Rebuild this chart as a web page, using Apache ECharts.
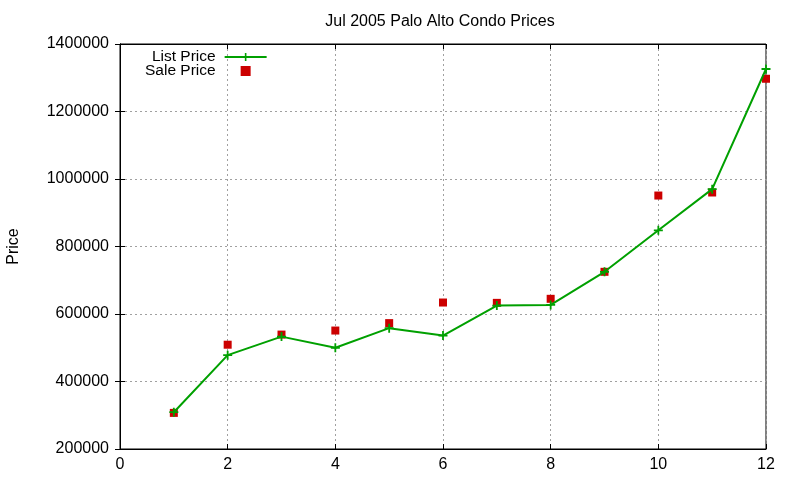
<!DOCTYPE html>
<html>
<head>
<meta charset="utf-8">
<script src="https://cdn.jsdelivr.net/npm/echarts@6/dist/echarts.min.js"></script>
<style>
  html, body { margin: 0; padding: 0; background: #fff; }
  #chart { width: 800px; height: 480px; }
</style>
</head>
<body>
<div id="chart"></div>
<script>
// month numbers (x) and prices
const months = [1, 2, 3, 4, 5, 6, 7, 8, 9, 10, 11, 12];
const listPrice = [309000, 478000, 533000, 500000, 558000, 536000, 625000, 627000, 725000, 848000, 970000, 1326000];
const salePrice = [307000, 509000, 539000, 551000, 573000, 634000, 633000, 645000, 725000, 951000, 960000, 1297000];

const font = "'Liberation Sans', Arial, sans-serif";
const plusIcon = 'path://M4,0h2v4h4v2h-4v4h-2v-4h-4v-2h4z';
const squareIcon = 'path://M0,0h10v10h-10z';

var chart = echarts.init(document.getElementById('chart'));

// mirrored ticks on top/right like gnuplot
const xBase = {
    type: 'value', min: 0, max: 12, interval: 2,
    axisLine: { lineStyle: { color: '#000', width: 1 } },
    axisTick: { inside: true, length: 5, lineStyle: { color: '#000' } }
};
const yBase = {
    type: 'value', min: 200000, max: 1400000, interval: 200000,
    axisLine: { show: true, lineStyle: { color: '#000', width: 1 } },
    axisTick: { show: true, inside: true, length: 5, lineStyle: { color: '#000' } }
};

var option = {
    animation: false,
    backgroundColor: '#fff',
    title: {
        text: 'Jul 2005 Palo Alto Condo Prices',
        left: 435, top: 9, textAlign: 'center',
        textStyle: { fontFamily: font, fontSize: 16, fontWeight: 'normal', color: '#000' }
    },
    grid: { left: 120, right: 34, top: 44, bottom: 31, outerBoundsMode: 'none', containLabel: false,
        show: true, borderColor: '#000', borderWidth: 1 },
    legend: {
        orient: 'vertical',
        align: 'right',
        left: 140, top: 44,
        itemWidth: 42, itemHeight: 10, itemGap: -2,
        symbolKeepAspect: true,
        textStyle: { fontFamily: font, fontSize: 15.5, color: '#000', padding: [0, 4, 0, 0] },
        data: ['List Price', { name: 'Sale Price', icon: squareIcon, symbolKeepAspect: true }]
    },
    xAxis: [
        Object.assign({}, xBase, {
            axisLabel: { fontFamily: font, fontSize: 16, color: '#000', margin: 8,
                alignMinLabel: 'center', alignMaxLabel: 'center' },
            splitLine: { show: true, lineStyle: { color: '#a0a0a0', type: [2, 3] } }
        }),
        Object.assign({}, xBase, { position: 'top', axisLabel: { show: false }, splitLine: { show: false } })
    ],
    yAxis: [
        Object.assign({}, yBase, {
            name: 'Price', nameLocation: 'middle', nameGap: 98,
            nameTextStyle: { fontFamily: font, fontSize: 16, color: '#000' },
            axisLabel: { fontFamily: font, fontSize: 16, color: '#000', margin: 11,
                formatter: (v) => String(v) },
            splitLine: { show: true, lineStyle: { color: '#a0a0a0', type: [2, 3] } }
        }),
        Object.assign({}, yBase, { position: 'right', axisLabel: { show: false }, splitLine: { show: false } })
    ],
    series: [
        {
            name: 'List Price',
            type: 'line',
            data: months.map((m, i) => [m, listPrice[i]]),
            symbol: plusIcon,
            symbolSize: 9,
            showSymbol: true,
            color: '#00a000',
            lineStyle: { color: '#00a000', width: 2 },
            itemStyle: { color: '#00a000' }
        },
        {
            name: 'Sale Price',
            type: 'scatter',
            data: months.map((m, i) => [m, salePrice[i]]),
            symbol: squareIcon,
            symbolKeepAspect: true,
            symbolSize: 8,
            color: '#cc0000',
            itemStyle: { color: '#cc0000', opacity: 1 }
        }
    ]
};

option && chart.setOption(option);
</script>
</body>
</html>
